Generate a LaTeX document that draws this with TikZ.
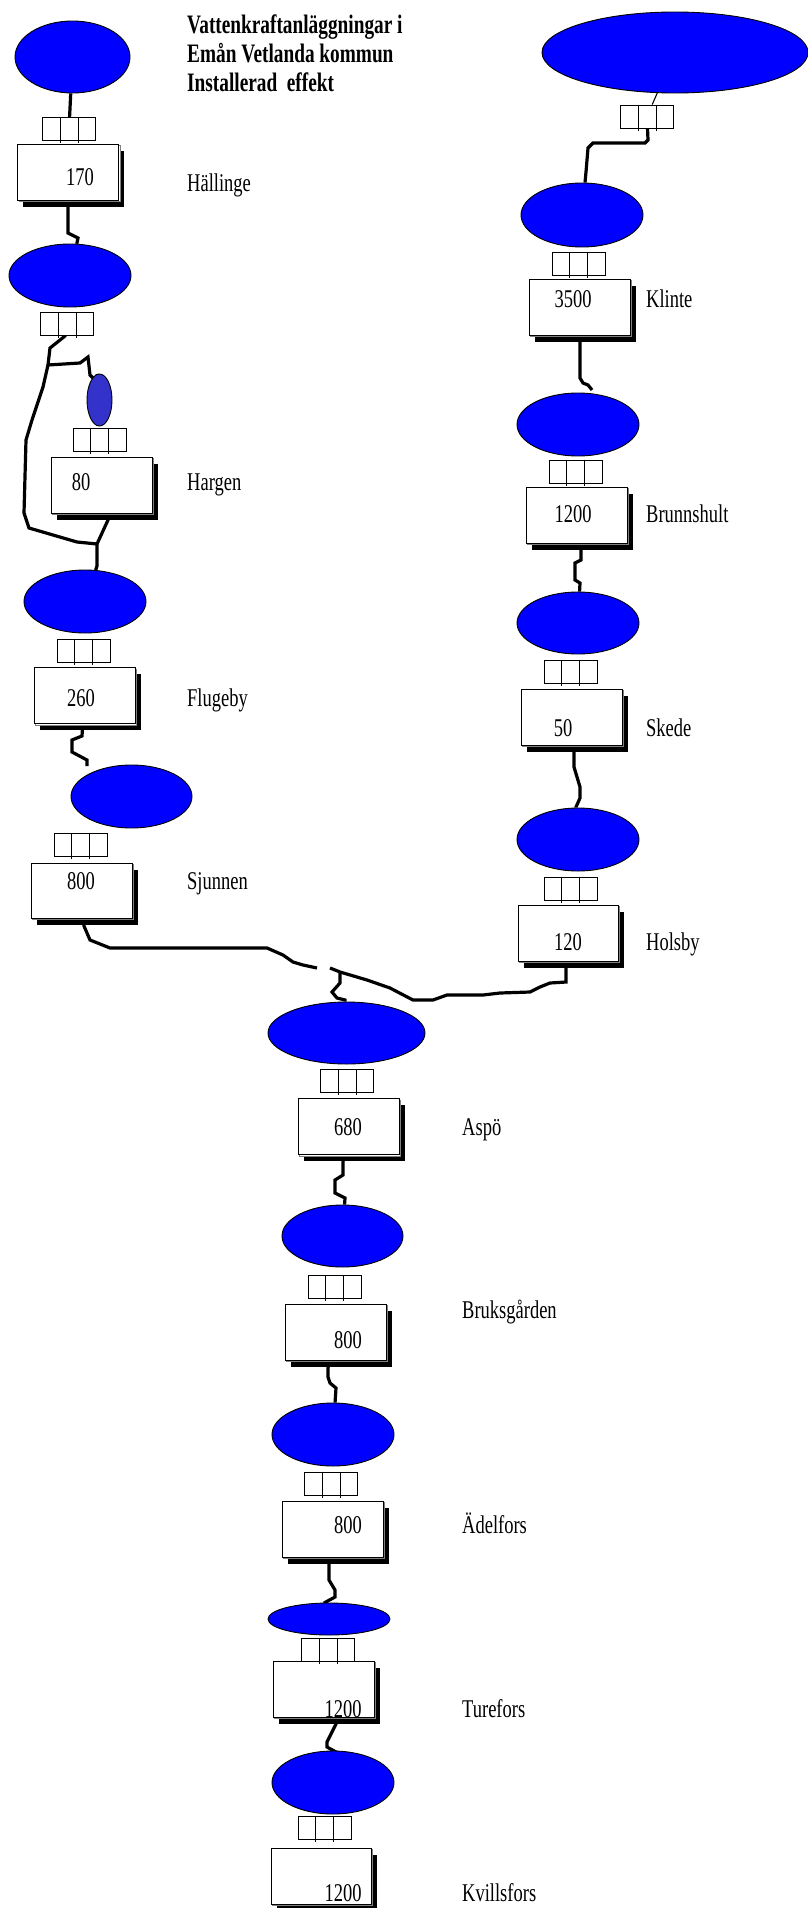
\documentclass[tikz,border=0pt]{standalone}
\usepackage{fontspec}
\setmainfont{Liberation Serif}
\usetikzlibrary{shapes.geometric,shadows,calc,backgrounds}
\definecolor{lakeblue}{RGB}{0,0,255}
\definecolor{smallblue}{RGB}{51,51,204}
\newcommand\tall[1]{\scalebox{1}[1.38]{#1}}
\newcommand\gatenode[3]{%
  \node[gatebox] (#1) at (#2,#3) {};
  \draw[divider] ($(#1.north west)!0.34!(#1.north east)$) -- ++(0,26);
  \draw[divider] ($(#1.north west)!0.67!(#1.north east)$) -- ++(0,26);
}
\tikzset{
  lake/.style={ellipse, draw=black, line width=0.9pt, fill=lakeblue, inner sep=0pt},
  gatebox/.style={rectangle, draw=black, line width=0.9pt, fill=white,
    minimum width=53pt, minimum height=23pt, inner sep=0pt},
  divider/.style={line width=0.9pt},
  plant/.style={rectangle, draw=black, line width=0.9pt, fill=white,
    minimum width=101pt, minimum height=56pt, inner sep=0pt,
    general shadow={shadow xshift=5.5pt, shadow yshift=-6.5pt, fill=black},
    general shadow={shadow xshift=1.3pt, shadow yshift=-1.3pt, fill=white, draw=gray, line width=0.6pt}},
  river/.style={line width=3.2pt},
  thinriver/.style={line width=1.1pt},
  num/.style={anchor=base, inner sep=0pt, font=\fontsize{18.5}{22}\selectfont},
  lbl/.style={anchor=base west, inner sep=0pt, font=\fontsize{18.5}{22}\selectfont},
  ttl/.style={anchor=base west, inner sep=0pt, font=\fontsize{19.3}{24}\selectfont\bfseries},
}
\begin{document}
\begin{tikzpicture}[x=1pt,y=-1pt]
\useasboundingbox (0,0) rectangle (808,1908);

% title
\node[ttl] (t1) at (187,34) {\tall{Vattenkraftanläggningar i}};
\node[ttl] (t2) at (187,63) {\tall{Emån Vetlanda kommun}};
\node[ttl] (t3) at (187,92) {\tall{Installerad\ \ effekt}};

% lakes
\node[lake, minimum width=115pt, minimum height=72pt] (e1) at (72.5,57) {};
\node[lake, minimum width=122pt, minimum height=63pt] (e2) at (70,275.5) {};
\node[lake, fill=smallblue, minimum width=25pt, minimum height=52pt] (e2b) at (99.5,400) {};
\node[lake, minimum width=122pt, minimum height=63pt] (e3) at (85,601.5) {};
\node[lake, minimum width=121pt, minimum height=63pt] (e4) at (131.5,796.5) {};
\node[lake, minimum width=266pt, minimum height=81pt] (et) at (675,52.5) {};
\node[lake, minimum width=122pt, minimum height=64pt] (ek) at (582,215) {};
\node[lake, minimum width=122pt, minimum height=63pt] (ebr) at (578,424.5) {};
\node[lake, minimum width=122pt, minimum height=62pt] (esk) at (578,623) {};
\node[lake, minimum width=122pt, minimum height=63pt] (eho) at (578,839.5) {};
\node[lake, minimum width=157pt, minimum height=62pt] (e5) at (346.5,1033) {};
\node[lake, minimum width=121pt, minimum height=62pt] (e6) at (342.5,1236) {};
\node[lake, minimum width=122pt, minimum height=63pt] (e7) at (333,1434.5) {};
\node[lake, minimum width=122pt, minimum height=32pt] (e8) at (329,1619) {};
\node[lake, minimum width=122pt, minimum height=63pt] (e9) at (333,1782.5) {};

% plants (boxes)
\node[plant] (b1) at (68,172) {};
\node[plant] (b2b) at (101.5,485) {};
\node[plant] (b3) at (84.5,695.5) {};
\node[plant, minimum height=55pt] (b4) at (81.5,890.5) {};
\node[plant] (bk) at (579.5,307) {};
\node[plant] (bbr) at (576.5,515) {};
\node[plant] (bsk) at (571.5,717) {};
\node[plant, minimum width=100pt] (bho) at (568,933) {};
\node[plant] (b5) at (348.5,1126.5) {};
\node[plant] (b6) at (335.5,1332) {};
\node[plant] (b7) at (332.5,1529) {};
\node[plant] (b8) at (323.5,1689) {};
\node[plant, minimum width=100pt] (b9) at (321,1876) {};

% gates
\gatenode{g1}{69}{129}
\gatenode{g2}{67}{324}
\gatenode{g2b}{99.5}{439.5}
\gatenode{g3}{83.5}{650.5}
\gatenode{g4}{80.5}{845}
\gatenode{gt}{647}{116.5}
\gatenode{gk}{578.5}{264}
\gatenode{gbr}{575.5}{471.5}
\gatenode{gsk}{570.5}{671.5}
\gatenode{gho}{570.5}{888.5}
\gatenode{g5}{347}{1081}
\gatenode{g6}{334.5}{1287}
\gatenode{g7}{331}{1483.5}
\gatenode{g8}{328}{1650}
\gatenode{g9}{324.5}{1828}

% numbers
\node[num] (n1) at (80,185.5) {\tall{170}};
\node[num] (n2b) at (81,490) {\tall{80}};
\node[num] (n3) at (81,706) {\tall{260}};
\node[num] (n4) at (81,889) {\tall{800}};
\node[num] (nk) at (573,307) {\tall{3500}};
\node[num] (nbr) at (573,522) {\tall{1200}};
\node[num] (nsk) at (563,736) {\tall{50}};
\node[num] (nho) at (568,950) {\tall{120}};
\node[num] (n5) at (348,1135) {\tall{680}};
\node[num] (n6) at (348,1348) {\tall{800}};
\node[num] (n7) at (348,1533) {\tall{800}};
\node[num] (n8) at (343,1717) {\tall{1200}};
\node[num] (n9) at (343,1901) {\tall{1200}};

% labels
\node[lbl] (l1) at (187,191) {\tall{Hällinge}};
\node[lbl] (l2b) at (187,490) {\tall{Hargen}};
\node[lbl] (l3) at (187,706) {\tall{Flugeby}};
\node[lbl] (l4) at (187,889) {\tall{Sjunnen}};
\node[lbl] (lk) at (646,307) {\tall{Klinte}};
\node[lbl] (lbr) at (646,522) {\tall{Brunnshult}};
\node[lbl] (lsk) at (646,736) {\tall{Skede}};
\node[lbl] (lho) at (646,950) {\tall{Holsby}};
\node[lbl] (l5) at (462,1135) {\tall{Aspö}};
\node[lbl] (l6) at (462,1318) {\tall{Bruksgården}};
\node[lbl] (l7) at (462,1533) {\tall{Ädelfors}};
\node[lbl] (l8) at (462,1717) {\tall{Turefors}};
\node[lbl] (l9) at (462,1901) {\tall{Kvillsfors}};

% free ends
\coordinate (e4in) at (87,766);
\coordinate (sjend) at (317,968);
\coordinate (hoend) at (330,968);
\coordinate (brin) at (592,390);

\begin{scope}[on background layer]
  \draw[river] (e1) -- (g1);
  \draw[river] (b1) -- (68,208) -- (68,233) -- (78,238) -- (e2);
  \draw[river] (g2) -- (65,336) -- (50,348) -- (48,365) coordinate (j1)
     -- (80,363) -- (88,357) -- (90,375) -- (98,383) -- (e2b);
  \draw[river] (j1) -- (43,387) -- (32,420) -- (26,440) -- (24,513) -- (29,528)
     -- (77,542) -- (97,544) coordinate (j2) -- (97,566) -- (e3);
  \draw[river] (b2b) -- (108,520) -- (j2);
  \draw[river] (b3) -- (82,736) -- (72,740) -- (72,752) -- (87,760) -- (e4in);
  \draw[river] (b4) -- (84,926) -- (90,940) -- (110,948) -- (267,948) -- (283,955)
     -- (293,962) -- (303,965) -- (sjend);
  \draw[river] (bho) -- (566,969) -- (566,982) -- (550,983) -- (540,987) -- (530,992)
     -- (500,993) -- (483,995) -- (447,995) -- (433,1000) -- (413,1000) -- (390,988)
     -- (367,980) -- (340,972) coordinate (j3) -- (hoend);
  \draw[river] (j3) -- (340,983) -- (332,992) -- (337,998) -- (345,1000) -- (e5);
  \draw[river] (b5) -- (343,1162) -- (343,1175) -- (335,1180) -- (335,1193) -- (345,1198) -- (e6);
  \draw[river] (b6) -- (328,1368) -- (328,1377) -- (330,1383) -- (336,1388) -- (e7);
  \draw[river] (b7) -- (329,1564) -- (329,1580) -- (335,1590) -- (335,1597) -- (324,1603) -- (e8);
  \draw[river] (b8) -- (336,1724) -- (327,1742) -- (327,1747) -- (336,1752) -- (e9);
  \draw[thinriver] (et) -- (gt);
  \draw[river] (gt) -- (648,140) -- (645,143) -- (593,143) -- (588,148) -- (586,172) -- (ek);
  \draw[river] (bk) -- (580,343) -- (580,378) -- (583,383) -- (588,385) -- (brin);
  \draw[river] (bbr) -- (581,551) -- (581,560) -- (575,563) -- (575,580) -- (580,583) -- (esk);
  \draw[river] (bsk) -- (574,753) -- (574,767) -- (580,787) -- (580,798) -- (576,807) -- (eho);
\end{scope}
\end{tikzpicture}
\end{document}
